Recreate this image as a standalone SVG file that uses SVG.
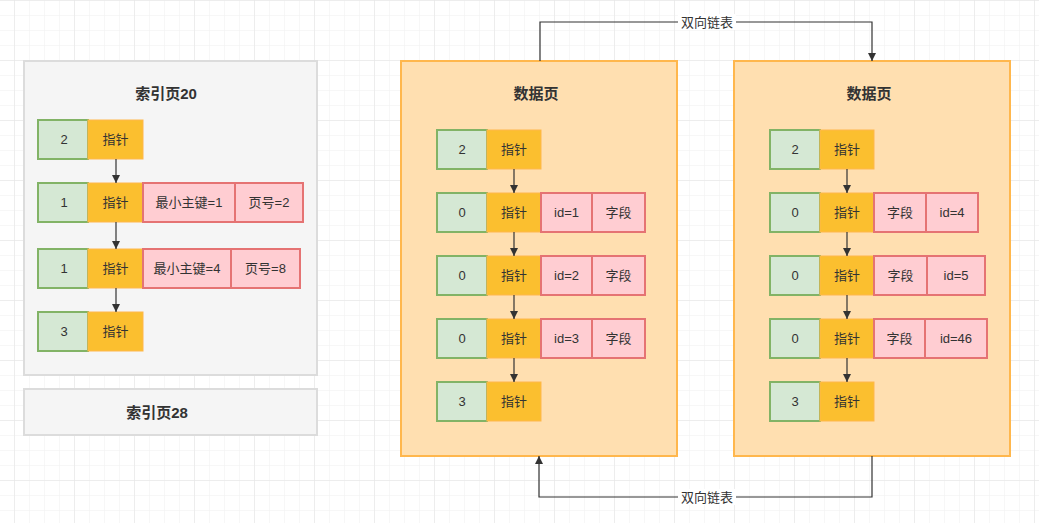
<svg xmlns="http://www.w3.org/2000/svg" width="1039" height="523" viewBox="0 0 1039 523">
<defs>
<pattern id="gmin" x="14" y="0" width="15" height="15" patternUnits="userSpaceOnUse">
<path d="M0 0H15M0 0V15" fill="none" stroke="#efefef" stroke-width="1"/>
</pattern>
<pattern id="gmaj" x="14" y="0" width="60" height="60" patternUnits="userSpaceOnUse">
<path d="M0 0H60M0 0V60" fill="none" stroke="#e3e3e3" stroke-width="1"/>
</pattern>
<marker id="arr" viewBox="0 0 10 10" refX="10" refY="5" markerWidth="8" markerHeight="8" markerUnits="userSpaceOnUse" orient="auto">
<path d="M0 0L10 5L0 10Z" fill="#333"/>
</marker>
</defs>
<style>
text{font-family:"Liberation Sans","Noto Sans CJK SC",sans-serif;fill:#333;text-anchor:middle;dominant-baseline:central;font-size:13px}
.t{font-weight:bold;font-size:15px}
.g{fill:#d5e8d4;stroke:#82b366;stroke-width:2}
.o{fill:#fbbf2f;stroke:#ffb74d;stroke-width:1}
.p{fill:#ffcdd2;stroke:#e57373;stroke-width:2}
.pg{fill:#ffdfb0;stroke:#ffb74d;stroke-width:2}
.ix{fill:#f5f5f5;stroke:#dcdcdc;stroke-width:2}
.c{fill:none;stroke:#333;stroke-width:1.2}
</style>
<rect width="1039" height="523" fill="#fff"/>
<rect width="1039" height="523" fill="url(#gmin)"/>
<rect width="1039" height="523" fill="url(#gmaj)"/>

<g id="index20">
<rect class="ix" x="24" y="61" width="293" height="314"/>
<text class="t" x="166" y="93">索引页20</text>
<rect class="g" x="38" y="120" width="50" height="39"/><text x="64" y="139.5">2</text>
<rect class="o" x="88" y="120" width="55" height="39"/><text x="115.5" y="139.5">指针</text>
<rect class="g" x="38" y="183" width="50" height="39"/><text x="64" y="202.5">1</text>
<rect class="o" x="88" y="183" width="55" height="39"/><text x="115.5" y="202.5">指针</text>
<rect class="p" x="143" y="183" width="92" height="39"/><text x="189" y="202.5">最小主键=1</text>
<rect class="p" x="235" y="183" width="68" height="39"/><text x="269" y="202.5">页号=2</text>
<rect class="g" x="38" y="249" width="50" height="39"/><text x="64" y="268.5">1</text>
<rect class="o" x="88" y="249" width="55" height="39"/><text x="115.5" y="268.5">指针</text>
<rect class="p" x="143" y="249" width="88" height="39"/><text x="187" y="268.5">最小主键=4</text>
<rect class="p" x="231" y="249" width="69" height="39"/><text x="265.5" y="268.5">页号=8</text>
<rect class="g" x="38" y="312" width="50" height="39"/><text x="64" y="331.5">3</text>
<rect class="o" x="88" y="312" width="55" height="39"/><text x="115.5" y="331.5">指针</text>
</g>

<g id="index28">
<rect class="ix" x="24" y="389" width="293" height="46"/>
<text class="t" x="157" y="412">索引页28</text>
</g>

<g id="datapage1">
<rect class="pg" x="401" y="61" width="276" height="395"/>
<text class="t" x="536" y="93">数据页</text>
<rect class="g" x="437" y="130" width="50" height="39"/><text x="462" y="149.5">2</text>
<rect class="o" x="487" y="130" width="54" height="39"/><text x="514" y="149.5">指针</text>
<rect class="g" x="437" y="193" width="50" height="39"/><text x="462" y="212.5">0</text>
<rect class="o" x="487" y="193" width="54" height="39"/><text x="514" y="212.5">指针</text>
<rect class="p" x="541" y="193" width="51" height="39"/><text x="566.5" y="212.5">id=1</text>
<rect class="p" x="592" y="193" width="53" height="39"/><text x="618.5" y="212.5">字段</text>
<rect class="g" x="437" y="256" width="50" height="39"/><text x="462" y="275.5">0</text>
<rect class="o" x="487" y="256" width="54" height="39"/><text x="514" y="275.5">指针</text>
<rect class="p" x="541" y="256" width="51" height="39"/><text x="566.5" y="275.5">id=2</text>
<rect class="p" x="592" y="256" width="53" height="39"/><text x="618.5" y="275.5">字段</text>
<rect class="g" x="437" y="319" width="50" height="39"/><text x="462" y="338.5">0</text>
<rect class="o" x="487" y="319" width="54" height="39"/><text x="514" y="338.5">指针</text>
<rect class="p" x="541" y="319" width="51" height="39"/><text x="566.5" y="338.5">id=3</text>
<rect class="p" x="592" y="319" width="53" height="39"/><text x="618.5" y="338.5">字段</text>
<rect class="g" x="437" y="382" width="50" height="39"/><text x="462" y="401.5">3</text>
<rect class="o" x="487" y="382" width="54" height="39"/><text x="514" y="401.5">指针</text>
</g>

<g id="datapage2">
<rect class="pg" x="734" y="61" width="276" height="395"/>
<text class="t" x="869" y="93">数据页</text>
<rect class="g" x="770" y="130" width="50" height="39"/><text x="795" y="149.5">2</text>
<rect class="o" x="820" y="130" width="54" height="39"/><text x="847" y="149.5">指针</text>
<rect class="g" x="770" y="193" width="50" height="39"/><text x="795" y="212.5">0</text>
<rect class="o" x="820" y="193" width="54" height="39"/><text x="847" y="212.5">指针</text>
<rect class="p" x="874" y="193" width="52" height="39"/><text x="900" y="212.5">字段</text>
<rect class="p" x="926" y="193" width="52" height="39"/><text x="952" y="212.5">id=4</text>
<rect class="g" x="770" y="256" width="50" height="39"/><text x="795" y="275.5">0</text>
<rect class="o" x="820" y="256" width="54" height="39"/><text x="847" y="275.5">指针</text>
<rect class="p" x="874" y="256" width="53" height="39"/><text x="900.5" y="275.5">字段</text>
<rect class="p" x="927" y="256" width="58" height="39"/><text x="956" y="275.5">id=5</text>
<rect class="g" x="770" y="319" width="50" height="39"/><text x="795" y="338.5">0</text>
<rect class="o" x="820" y="319" width="54" height="39"/><text x="847" y="338.5">指针</text>
<rect class="p" x="874" y="319" width="51" height="39"/><text x="899.5" y="338.5">字段</text>
<rect class="p" x="925" y="319" width="62" height="39"/><text x="956" y="338.5">id=46</text>
<rect class="g" x="770" y="382" width="50" height="39"/><text x="795" y="401.5">3</text>
<rect class="o" x="820" y="382" width="54" height="39"/><text x="847" y="401.5">指针</text>
</g>

<g id="connectors">
<path class="c" marker-end="url(#arr)" d="M116 159V183"/>
<path class="c" marker-end="url(#arr)" d="M116 222V249"/>
<path class="c" marker-end="url(#arr)" d="M116 288V312"/>
<path class="c" marker-end="url(#arr)" d="M514 169V193"/>
<path class="c" marker-end="url(#arr)" d="M514 232V256"/>
<path class="c" marker-end="url(#arr)" d="M514 295V319"/>
<path class="c" marker-end="url(#arr)" d="M514 358V382"/>
<path class="c" marker-end="url(#arr)" d="M847 169V193"/>
<path class="c" marker-end="url(#arr)" d="M847 232V256"/>
<path class="c" marker-end="url(#arr)" d="M847 295V319"/>
<path class="c" marker-end="url(#arr)" d="M847 358V382"/>
<path class="c" marker-end="url(#arr)" d="M540 61V22H872V61"/>
<path class="c" marker-end="url(#arr)" d="M872 456V497H539V456"/>
<rect x="678" y="14" width="58" height="16" fill="#fff"/>
<text x="707" y="22">双向链表</text>
<rect x="678" y="489" width="58" height="16" fill="#fff"/>
<text x="707" y="497">双向链表</text>
</g>
</svg>
